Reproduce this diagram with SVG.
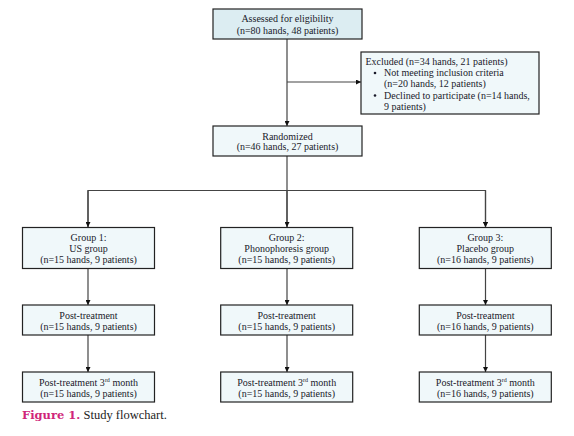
<svg xmlns="http://www.w3.org/2000/svg" width="574" height="436" viewBox="0 0 574 436">
<defs>
<style>
.box{fill:#f0f8fa;stroke:#222;stroke-width:1.2}
.top{fill:#dcedf2}
.t{font-family:"Liberation Serif","DejaVu Serif",serif;font-size:10px;fill:#1a1a2a;text-anchor:middle}
.l{text-anchor:start}
.c{fill:none;stroke:#444;stroke-width:1.2}
.cap{font-family:"Liberation Serif",serif;font-size:12.5px;fill:#222}
</style>
<marker id="ah" viewBox="0 0 10 10" refX="10" refY="5" markerWidth="5" markerHeight="5" markerUnits="userSpaceOnUse" orient="auto">
<path d="M0,0 L10,5 L0,10 Z" fill="#111"/>
</marker>
</defs>
<rect width="574" height="436" fill="#fff"/>
<g id="connectors">
<path class="c" d="M287,39 V126" marker-end="url(#ah)"/>
<path class="c" d="M287,82 H361" marker-end="url(#ah)"/>
<path class="c" d="M287,156 V227"/>
<path class="c" d="M88,227 V190.5 H485.5 V227" marker-end="url(#ah)"/>
<path class="c" d="M88,190.5 V227" marker-end="url(#ah)"/>
<path class="c" d="M287,190.5 V227" marker-end="url(#ah)"/>
<path class="c" d="M485.5,190.5 V227" marker-end="url(#ah)"/>
<path class="c" d="M88,268 V305" marker-end="url(#ah)"/>
<path class="c" d="M287,268 V305" marker-end="url(#ah)"/>
<path class="c" d="M485.5,268 V305" marker-end="url(#ah)"/>
<path class="c" d="M88,335 V372" marker-end="url(#ah)"/>
<path class="c" d="M287,335 V372" marker-end="url(#ah)"/>
<path class="c" d="M485.5,335 V372" marker-end="url(#ah)"/>
</g>
<g id="assessed">
<rect class="box top" x="213" y="9" width="149" height="30"/>
<text class="t" x="287.5" y="22">Assessed for eligibility</text>
<text class="t" x="287.5" y="33.5">(n=80 hands, 48 patients)</text>
</g>
<g id="excluded">
<rect class="box" x="361" y="52" width="178" height="62"/>
<text class="t l" x="365.5" y="65">Excluded (n=34 hands, 21 patients)</text>
<circle cx="375" cy="73" r="1.3" fill="#1a1a2a"/>
<text class="t l" x="384" y="76">Not meeting inclusion criteria</text>
<text class="t l" x="384" y="87">(n=20 hands, 12 patients)</text>
<circle cx="375" cy="95.5" r="1.3" fill="#1a1a2a"/>
<text class="t l" x="384" y="98.5">Declined to participate (n=14 hands,</text>
<text class="t l" x="384" y="109.5">9 patients)</text>
</g>
<g id="randomized">
<rect class="box" x="213" y="126" width="149" height="30"/>
<text class="t" x="287.5" y="139.5">Randomized</text>
<text class="t" x="287.5" y="150">(n=46 hands, 27 patients)</text>
</g>
<g id="group1">
<rect class="box" x="22.5" y="227.5" width="132" height="41"/>
<text class="t" x="88.5" y="241">Group 1:</text>
<text class="t" x="88.5" y="252">US group</text>
<text class="t" x="88.5" y="263">(n=15 hands, 9 patients)</text>
</g>
<g id="group2">
<rect class="box" x="220.7" y="227.5" width="132" height="41"/>
<text class="t" x="286.7" y="241">Group 2:</text>
<text class="t" x="286.7" y="252">Phonophoresis group</text>
<text class="t" x="286.7" y="263">(n=15 hands, 9 patients)</text>
</g>
<g id="group3">
<rect class="box" x="419.3" y="227.5" width="132" height="41"/>
<text class="t" x="485.3" y="241">Group 3:</text>
<text class="t" x="485.3" y="252">Placebo group</text>
<text class="t" x="485.3" y="263">(n=16 hands, 9 patients)</text>
</g>
<g id="post1">
<rect class="box" x="22.5" y="305" width="132" height="30"/>
<text class="t" x="88.5" y="318.5">Post-treatment</text>
<text class="t" x="88.5" y="329.5">(n=15 hands, 9 patients)</text>
</g>
<g id="post2">
<rect class="box" x="220.7" y="305" width="132" height="30"/>
<text class="t" x="286.7" y="318.5">Post-treatment</text>
<text class="t" x="286.7" y="329.5">(n=15 hands, 9 patients)</text>
</g>
<g id="post3">
<rect class="box" x="419.3" y="305" width="132" height="30"/>
<text class="t" x="485.3" y="318.5">Post-treatment</text>
<text class="t" x="485.3" y="329.5">(n=16 hands, 9 patients)</text>
</g>
<g id="month1">
<rect class="box" x="22.5" y="372" width="132" height="30"/>
<text class="t" x="88.5" y="385.5">Post-treatment 3<tspan font-size="6" dy="-3.5">rd</tspan><tspan dy="3.5"> month</tspan></text>
<text class="t" x="88.5" y="396.5">(n=15 hands, 9 patients)</text>
</g>
<g id="month2">
<rect class="box" x="220.7" y="372" width="132" height="30"/>
<text class="t" x="286.7" y="385.5">Post-treatment 3<tspan font-size="6" dy="-3.5">rd</tspan><tspan dy="3.5"> month</tspan></text>
<text class="t" x="286.7" y="396.5">(n=15 hands, 9 patients)</text>
</g>
<g id="month3">
<rect class="box" x="419.3" y="372" width="132" height="30"/>
<text class="t" x="485.3" y="385.5">Post-treatment 3<tspan font-size="6" dy="-3.5">rd</tspan><tspan dy="3.5"> month</tspan></text>
<text class="t" x="485.3" y="396.5">(n=16 hands, 9 patients)</text>
</g>
<text class="cap" x="22" y="419"><tspan font-weight="bold" fill="#d0257a" font-family="'DejaVu Serif',serif" font-size="11.5">Figure 1.</tspan> Study flowchart.</text>
</svg>
